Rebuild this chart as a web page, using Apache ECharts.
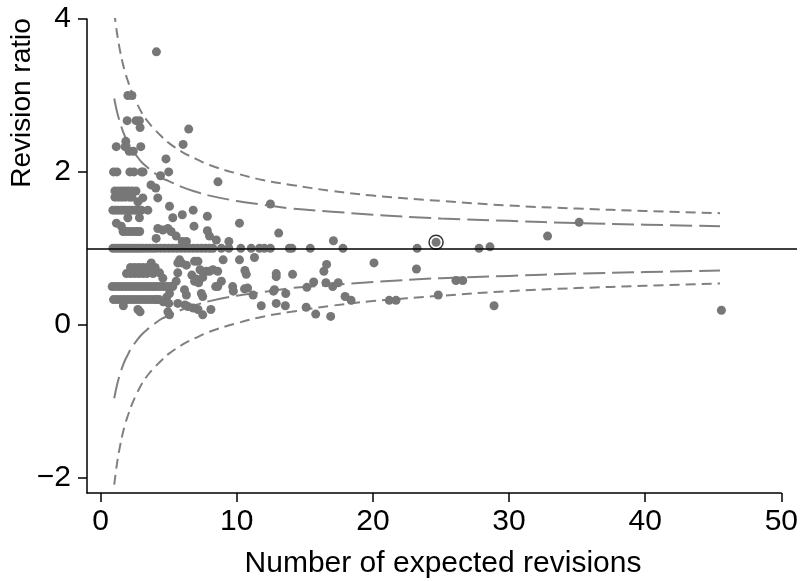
<!DOCTYPE html>
<html>
<head>
<meta charset="utf-8">
<script src="https://cdn.jsdelivr.net/npm/echarts@6/dist/echarts.min.js"></script>
<style>
  html, body { margin: 0; padding: 0; background: #fff; }
  #chart { width: 801px; height: 581px; }
</style>
</head>
<body>
<div id="chart"></div>
<script>
// axis ticks
const xTicks = [0, 10, 20, 30, 40, 50];
const yTicks = [-2, 0, 2, 4];
const refRatio = 1;

// funnel limits
const limitX = [1, 1.2, 1.4, 1.6, 1.8, 2, 2.3, 2.6, 3, 3.5, 4, 4.5, 5, 6, 7, 8, 10, 12, 14, 17, 20, 25, 30, 35, 40, 45.5];
const upperInner = [2.96, 2.79, 2.66, 2.55, 2.46, 2.39, 2.29, 2.22, 2.13, 2.05, 1.98, 1.92, 1.88, 1.80, 1.74, 1.69, 1.62, 1.57, 1.52, 1.48, 1.44, 1.39, 1.36, 1.33, 1.31, 1.29];
const lowerInner = [-0.96, -0.79, -0.66, -0.55, -0.46, -0.39, -0.29, -0.22, -0.13, -0.05, 0.02, 0.08, 0.12, 0.20, 0.26, 0.31, 0.38, 0.43, 0.48, 0.52, 0.56, 0.61, 0.64, 0.67, 0.69, 0.71];
const upperOuter = [4.09, 3.82, 3.61, 3.44, 3.30, 3.19, 3.04, 2.92, 2.78, 2.65, 2.55, 2.46, 2.38, 2.26, 2.17, 2.09, 1.98, 1.89, 1.83, 1.75, 1.69, 1.62, 1.56, 1.52, 1.49, 1.46];
const lowerOuter = [-2.09, -1.82, -1.61, -1.44, -1.30, -1.19, -1.04, -0.92, -0.78, -0.65, -0.55, -0.46, -0.38, -0.26, -0.17, -0.09, 0.02, 0.11, 0.17, 0.25, 0.31, 0.38, 0.44, 0.48, 0.51, 0.54];

// [expected revisions, revision ratio]
const units = [
  [4.1, 3.57],
  [2.0, 3.0], [2.3, 3.0],
  [1.95, 2.67], [2.6, 2.67], [2.85, 2.67], [2.9, 2.58], [6.47, 2.56],
  [1.15, 2.33], [1.8, 2.33], [1.85, 2.4], [2.95, 2.33], [2.1, 2.27], [2.4, 2.27], [6.06, 2.36], [4.8, 2.17],
  [0.95, 2.0], [1.2, 2.0], [2.15, 2.0], [2.45, 2.0], [3.0, 2.0], [3.12, 2.0], [5.0, 2.0], [4.4, 1.95],
  [8.62, 1.87], [3.7, 1.83], [4.05, 1.79],
  [1.05, 1.75], [1.3, 1.75], [1.55, 1.75], [1.8, 1.75], [2.05, 1.75], [2.3, 1.75], [2.6, 1.75],
  [1.05, 1.67], [1.3, 1.67], [1.55, 1.67], [1.8, 1.67], [2.1, 1.67], [2.3, 1.67],
  [3.1, 1.66], [2.74, 1.61], [4.2, 1.66],
  [0.9, 1.5], [1.1, 1.5], [1.3, 1.5], [1.5, 1.5], [1.7, 1.5], [1.9, 1.5], [2.1, 1.5], [2.3, 1.5], [2.5, 1.5], [2.7, 1.5], [3.0, 1.5], [3.47, 1.5],
  [5.06, 1.55], [12.47, 1.58], [6.8, 1.5], [6.0, 1.44], [5.3, 1.4], [7.84, 1.42], [2.0, 1.4], [2.85, 1.4],
  [1.16, 1.33], [1.52, 1.29], [6.86, 1.29], [10.2, 1.33],
  [1.65, 1.22], [1.9, 1.22], [2.15, 1.22], [2.4, 1.22], [2.65, 1.22], [2.87, 1.22],
  [4.2, 1.26], [4.57, 1.24], [4.94, 1.26], [5.18, 1.22], [4.08, 1.13], [5.55, 1.16], [6.0, 1.09], [6.3, 1.09],
  [7.84, 1.23], [8.0, 1.16], [8.5, 1.11], [9.42, 1.09], [13.08, 1.2], [17.1, 1.1], [24.64, 1.08],
  [32.83, 1.16], [35.15, 1.34], [28.6, 1.02],
  [0.9, 1], [1.1, 1], [1.3, 1], [1.5, 1], [1.7, 1], [1.9, 1], [2.1, 1], [2.3, 1], [2.5, 1], [2.7, 1],
  [2.9, 1], [3.1, 1], [3.35, 1], [3.6, 1], [3.85, 1], [4.1, 1], [4.4, 1], [4.7, 1], [5.0, 1], [5.3, 1],
  [5.6, 1], [5.9, 1], [6.2, 1], [6.5, 1], [6.8, 1], [7.1, 1], [7.4, 1], [7.7, 1], [8.0, 1], [8.25, 1],
  [8.87, 1], [9.42, 1], [10.3, 1], [11.06, 1], [11.67, 1], [12.03, 1], [12.47, 1], [13.86, 1], [14.05, 1],
  [15.4, 1], [17.8, 1], [23.25, 1], [27.8, 1],
  [5.8, 0.85], [5.94, 0.81], [6.9, 0.83], [7.15, 0.83], [6.3, 0.78], [9.0, 0.85], [10.2, 0.85], [11.3, 0.88],
  [3.72, 0.81], [5.67, 0.81],
  [2.2, 0.75], [2.5, 0.75], [2.8, 0.75], [3.1, 0.75], [3.4, 0.75], [3.7, 0.75], [4.0, 0.75],
  [1.9, 0.67], [2.2, 0.67], [2.5, 0.67], [2.8, 0.67], [3.1, 0.67], [3.4, 0.67], [3.85, 0.67], [4.33, 0.68],
  [5.67, 0.68], [4.57, 0.61],
  [7.3, 0.72], [7.77, 0.7], [8.0, 0.7], [8.25, 0.72], [8.6, 0.7], [10.6, 0.71], [10.7, 0.66], [12.9, 0.63],
  [12.9, 0.67], [14.1, 0.66],
  [6.7, 0.65], [7.0, 0.6], [7.2, 0.55], [6.9, 0.57], [7.5, 0.62],
  [5.55, 0.57], [8.87, 0.57], [6.16, 0.46],
  [0.85, 0.5], [1.1, 0.5], [1.35, 0.5], [1.6, 0.5], [1.85, 0.5], [2.1, 0.5], [2.35, 0.5], [2.6, 0.5],
  [2.85, 0.5], [3.1, 0.5], [3.35, 0.5], [3.6, 0.5], [3.85, 0.5], [4.1, 0.5], [4.35, 0.5], [4.6, 0.5],
  [4.85, 0.5], [5.1, 0.5], [5.3, 0.5],
  [8.45, 0.5], [8.6, 0.5], [9.7, 0.5], [9.75, 0.44], [10.57, 0.47], [10.8, 0.48], [11.2, 0.39], [12.77, 0.46],
  [12.7, 0.44], [13.6, 0.41],
  [15.15, 0.49], [15.65, 0.56], [16.55, 0.55], [17.05, 0.5], [17.45, 0.55], [16.6, 0.79], [16.4, 0.7],
  [20.08, 0.81], [23.2, 0.73], [26.1, 0.58], [26.6, 0.58], [24.8, 0.39], [28.9, 0.25],
  [17.96, 0.37], [18.4, 0.32], [21.2, 0.32], [21.7, 0.32], [12.9, 0.28], [13.57, 0.25], [15.1, 0.23],
  [15.8, 0.14], [16.9, 0.11], [45.6, 0.19],
  [6.3, 0.39], [7.4, 0.41], [7.5, 0.37], [11.8, 0.25], [6.8, 0.22], [7.15, 0.2], [7.5, 0.13], [6.4, 0.24],
  [6.2, 0.26], [8.1, 0.2],
  [0.95, 0.33], [1.2, 0.33], [1.45, 0.33], [1.7, 0.33], [1.95, 0.33], [2.2, 0.33], [2.45, 0.33],
  [2.7, 0.33], [2.95, 0.33], [3.2, 0.33], [3.45, 0.33], [3.7, 0.33], [3.95, 0.33], [4.1, 0.33],
  [4.3, 0.33], [4.6, 0.3], [4.85, 0.36], [5.0, 0.28], [5.67, 0.28], [5.06, 0.41],
  [1.67, 0.25], [2.74, 0.2], [2.9, 0.17], [4.94, 0.17], [5.06, 0.13]
];
const highlighted = [[24.64, 1.08]];

const font = '"Liberation Sans", Arial, sans-serif';
const grey = '#777777';
const lineGrey = '#808080';

const chart = echarts.init(document.getElementById('chart'));

const pairs = (ys) => limitX.map((x, i) => [x, ys[i]]);
const limitSeries = (ys, dash) => ({
  type: 'line',
  xAxisIndex: 1,
  yAxisIndex: 1,
  data: pairs(ys),
  smooth: 0.4,
  showSymbol: false,
  symbol: 'none',
  silent: true,
  z: 2,
  lineStyle: { color: lineGrey, width: 2, type: dash }
});

chart.setOption({
  animation: false,
  backgroundColor: '#fff',
  grid: [
    { left: 87, right: 4, top: 19, bottom: 88 },
    { left: 87, right: 17, top: 19, bottom: 88 }
  ],
  xAxis: [
    { gridIndex: 0, type: 'value', min: -1, max: 50.95, show: false },
    {
      gridIndex: 1, type: 'value', min: -1, max: 50,
      axisLine: { show: true, onZero: false, lineStyle: { color: '#000', width: 1.5 } },
      axisTick: { show: true, customValues: xTicks, length: 9, lineStyle: { color: '#000', width: 1.5 } },
      axisLabel: { customValues: xTicks, margin: 14, color: '#000', fontSize: 30, fontFamily: font },
      splitLine: { show: false }
    }
  ],
  yAxis: [
    { gridIndex: 0, type: 'value', min: -2.2, max: 4, show: false },
    {
      gridIndex: 1, type: 'value', min: -2.2, max: 4,
      axisLine: { show: true, onZero: false, lineStyle: { color: '#000', width: 1.5 } },
      axisTick: { show: true, customValues: yTicks, length: 9, lineStyle: { color: '#000', width: 1.5 } },
      axisLabel: {
        customValues: yTicks, margin: 16, color: '#000', fontSize: 30, fontFamily: font,
        formatter: (v) => (v < 0 ? '\u2212' + Math.abs(v) : String(v))
      },
      splitLine: { show: false }
    }
  ],
  graphic: [
    {
      type: 'text', x: 443, y: 564,
      style: { text: 'Number of expected revisions', fill: '#000', font: '30px ' + font, textAlign: 'center', textVerticalAlign: 'middle' }
    },
    {
      type: 'text', x: 22, y: 103, rotation: Math.PI / 2,
      style: { text: 'Revision ratio', fill: '#000', font: '28px ' + font, textAlign: 'center', textVerticalAlign: 'middle' }
    }
  ],
  series: [
    {
      type: 'line',
      xAxisIndex: 0,
      yAxisIndex: 0,
      data: [],
      silent: true,
      z: 1,
      markLine: {
        symbol: 'none',
        silent: true,
        label: { show: false },
        lineStyle: { color: '#000', type: 'solid', width: 1.5 },
        data: [{ yAxis: refRatio }]
      }
    },
    limitSeries(upperOuter, [10, 6]),
    limitSeries(lowerOuter, [10, 6]),
    limitSeries(upperInner, [22, 7]),
    limitSeries(lowerInner, [22, 7]),
    {
      type: 'scatter',
      xAxisIndex: 1,
      yAxisIndex: 1,
      data: units,
      symbolSize: 9,
      z: 3,
      itemStyle: { color: grey, opacity: 1 }
    },
    {
      type: 'scatter',
      xAxisIndex: 1,
      yAxisIndex: 1,
      data: highlighted,
      symbol: 'circle',
      symbolSize: 14,
      z: 4,
      itemStyle: { color: 'rgba(0,0,0,0)', borderColor: '#000', borderWidth: 1.5 }
    }
  ]
});
</script>
</body>
</html>
